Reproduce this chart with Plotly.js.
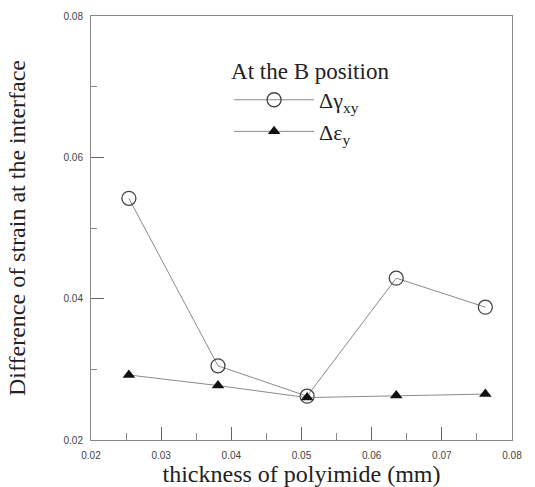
<!DOCTYPE html>
<html><head><meta charset="utf-8">
<script src="https://cdn.plot.ly/plotly-3.0.1.min.js"></script>
<style>html,body{margin:0;padding:0;background:#fff}</style>
</head><body>
<div id="chart" style="width:535px;height:487px"></div>
<script>
const thickness = [0.0254, 0.0381, 0.0508, 0.0635, 0.0762];
const gammaXY = [0.0542, 0.0305, 0.0262, 0.0429, 0.0388];
const epsY = [0.0292, 0.0277, 0.0260, 0.0263, 0.0265];
const xTicks = [0.02, 0.03, 0.04, 0.05, 0.06, 0.07, 0.08];
const yTicks = [0.02, 0.04, 0.06, 0.08];

const serif = 'Liberation Serif';
const sans = 'Liberation Sans, Arial, sans-serif';
const traces = [
  {x: thickness, y: gammaXY, name: 'Δγ<sub>xy</sub>', mode: 'lines+markers',
   line: {color: '#8a8a8a', width: 1},
   marker: {symbol: 'circle-open', size: 14, color: '#444', line: {width: 1.3, color: '#444'}}},
  {x: thickness, y: epsY, name: 'Δε<sub>y</sub>', mode: 'lines+markers',
   line: {color: '#8a8a8a', width: 1},
   marker: {symbol: 'triangle-up', size: 11, color: '#111'}}
];
const layout = {
  width: 535, height: 487,
  margin: {l: 91, r: 23, t: 16, b: 47},
  paper_bgcolor: '#fff', plot_bgcolor: '#fff',
  font: {family: serif},
  showlegend: true,
  legend: {x: 0.328, y: 0.922, xanchor: 'left', yanchor: 'top',
    title: {text: 'At the B position', font: {family: serif, size: 23, color: '#222'}},
    font: {family: serif, size: 22, color: '#222'},
    itemwidth: 80, bgcolor: 'rgba(0,0,0,0)', tracegroupgap: 0},
  xaxis: {range: [0.02, 0.08], tickvals: xTicks, ticktext: xTicks.map(v => v.toFixed(2)),
    ticks: 'inside', ticklen: 13, tickcolor: '#666', tickwidth: 1,
    minor: {dtick: 0.005, ticks: 'inside', ticklen: 7, tickcolor: '#888'},
    showline: true, linecolor: '#888', linewidth: 1, mirror: true,
    showgrid: false, zeroline: false, ticklabelstandoff: 6,
    tickfont: {family: sans, size: 10, color: '#444'},
    title: {text: 'thickness of polyimide (mm)', font: {family: serif, size: 24, color: '#222'}, standoff: 4}},
  yaxis: {range: [0.02, 0.08], tickvals: yTicks, ticktext: yTicks.map(v => v.toFixed(2)),
    ticks: 'inside', ticklen: 13, tickcolor: '#666', tickwidth: 1,
    minor: {dtick: 0.01, ticks: 'inside', ticklen: 6, tickcolor: '#888'},
    showline: true, linecolor: '#888', linewidth: 1, mirror: true,
    showgrid: false, zeroline: false, ticklabelstandoff: 5,
    tickfont: {family: sans, size: 10, color: '#444'},
    title: {text: 'Difference of strain at the interface', font: {family: serif, size: 24, color: '#222'}, standoff: 31}}
};
Plotly.newPlot('chart', traces, layout, {displayModeBar: false});
</script>
</body></html>
